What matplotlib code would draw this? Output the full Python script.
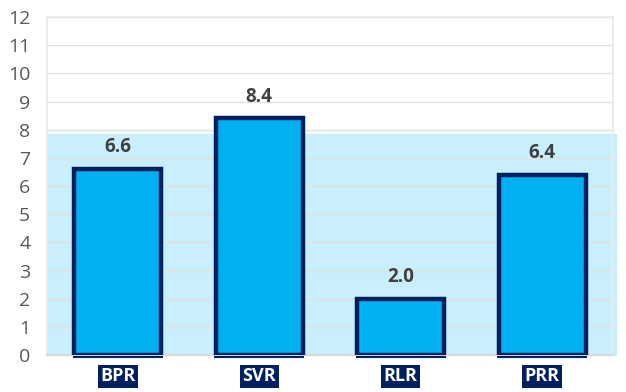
import matplotlib
matplotlib.use("Agg")
import matplotlib.pyplot as plt
import numpy as np

categories = ["BPR", "SVR", "RLR", "PRR"]
values = [6.6, 8.4, 2.0, 6.4]
band_top = 7.85
yticks = list(range(0, 13))

plt.rcParams['font.family'] = ['Open Sans', 'DejaVu Sans']

fig = plt.figure(figsize=(6.26, 3.92), dpi=100)
ax = fig.add_axes([0.075, 0.0944, 0.904, 0.862])

x = np.arange(len(categories))
ax.set_xlim(-0.5, len(categories) - 0.5)
ax.set_ylim(0, 12)

ax.axhspan(0, band_top, xmin=0, xmax=1.006, color="#c9eefc", zorder=0, clip_on=False)
for t in yticks[1:]:
    ax.axhline(t, color="#e3e1dc", lw=1.0, zorder=1)

bw = 0.615
ax.bar(x, values, width=bw, color="#00b0f0", edgecolor="#002060", linewidth=3.2, zorder=3)
for xi in x:
    ax.plot([xi - bw / 2 - 0.01, xi + bw / 2 + 0.01], [-0.07, -0.07], color="#002060",
            lw=1.5, clip_on=False, zorder=4, solid_capstyle="butt")

for xi, v in zip(x, values):
    ax.text(xi, v + 0.42, f"{v:.1f}", ha="center", va="bottom", fontsize=13.5,
            fontweight="bold", color="#404040", zorder=5)

ax.set_xticks(x)
ax.set_xticklabels(categories)
for lab in ax.get_xticklabels():
    lab.set_fontweight("bold")
    lab.set_color("white")
    lab.set_fontsize(13)
    lab.set_bbox(dict(facecolor="#002060", edgecolor="none", pad=1.8))
ax.tick_params(axis="x", length=0, pad=9)

ax.set_yticks(yticks)
ax.tick_params(axis="y", length=0, labelsize=14, labelcolor="#595959", pad=12)

for side in ["top", "right", "left"]:
    ax.spines[side].set_color("#ebe9e5")
    ax.spines[side].set_linewidth(1.2)
ax.spines["bottom"].set_color("#d9d9d9")
ax.spines["bottom"].set_linewidth(1.5)

fig.savefig("out.png", dpi=100)
